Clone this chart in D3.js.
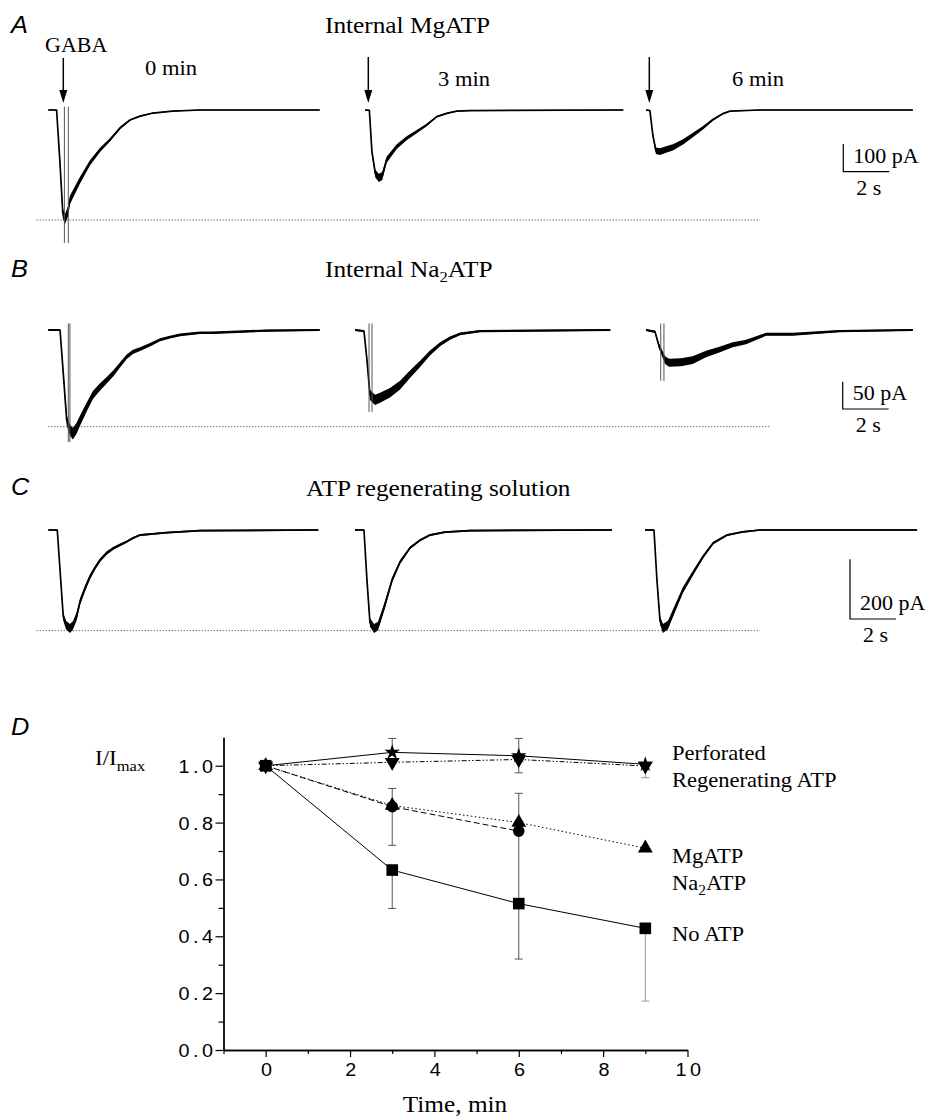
<!DOCTYPE html>
<html>
<head>
<meta charset="utf-8">
<script src="https://cdn.jsdelivr.net/npm/d3@7"></script>
<style>
body { margin: 0; background: #fff; }
svg { display: block; }
text { font-family: "Liberation Serif", "Times New Roman", serif; fill: #000; }
.sans { font-family: "Liberation Sans", Arial, sans-serif; }
</style>
</head>
<body>
<svg id="fig" width="930" height="1117"></svg>
<script>
// ---------- current traces: time (s) from sweep start, current (pA) ----------
// A: internal MgATP
var tA0 = [0, 0.36, 0.5, 0.63, 0.72, 0.85, 0.94, 1.38, 1.81, 2.25, 2.68, 3.12, 3.55, 3.99, 4.55, 5.4, 6.6, 11.8];
var iA0 = [0, 0, -180, -372, -395, -368, -325, -253, -191, -144, -108, -65, -36, -22, -11, -4, 0, 0];
var tA3 = [0, 0.19, 0.3, 0.45, 0.6, 0.75, 0.94, 1.38, 1.81, 2.25, 2.68, 3.12, 3.55, 3.99, 4.57, 11.23];
var iA3 = [0, -1, -150, -230, -245, -238, -180, -132, -102, -78, -54, -24, -12, -4, -2, 0];
var tA6 = [0, 0.17, 0.30, 0.43, 0.61, 0.87, 1.17, 1.61, 2.04, 2.48, 2.91, 3.35, 3.65, 4.96, 11.6];
var iA6 = [0, -2, -92, -147, -150, -143, -135, -115, -90, -64, -35, -13, -4, 0, 0];
// B: internal Na2ATP
var tB0 = [0, 0.51, 0.64, 0.80, 0.94, 1.07, 1.23, 1.38, 1.67, 1.94, 2.25, 2.54, 2.83, 3.12, 3.41, 3.68, 3.99, 4.42, 4.86, 5.29, 5.73, 6.6, 7.16, 9.5, 11.8];
var iB0 = [0, 0, -73, -165, -183, -190, -180, -166, -141, -119, -104, -92, -79, -64, -49, -40, -35, -27, -18, -13, -9, -5, -5, -1, 0];
var tB3 = [0, 0.39, 0.52, 0.65, 0.87, 1.09, 1.52, 1.96, 2.39, 2.83, 3.26, 3.7, 4.13, 4.57, 5.43, 11.1];
var iB3 = [0, -2, -55, -119, -128, -124, -115, -101, -81, -62, -42, -26, -15, -7, -2, 0];
var tB6 = [0, 0.39, 0.57, 0.83, 1.0, 1.52, 2.03, 2.61, 3.19, 3.77, 4.35, 5.22, 6.38, 8.41, 11.6];
var iB6 = [0, -3, -30, -55, -60, -59, -55, -44, -36, -27, -22, -8, -8, -2, 0];
// C: ATP regenerating solution
var tC0 = [0, 0.39, 0.51, 0.65, 0.77, 0.94, 1.07, 1.23, 1.38, 1.60, 1.81, 2.03, 2.25, 2.54, 2.83, 3.12, 3.41, 3.68, 3.99, 5.15, 6.6, 11.74];
var iC0 = [0, 0, -134, -290, -318, -330, -320, -290, -240, -195, -157, -127, -101, -77, -61, -50, -39, -27, -17, -9, -2, 0];
var tC3 = [0, 0.39, 0.52, 0.65, 0.83, 1.0, 1.3, 1.61, 1.96, 2.39, 2.83, 3.26, 3.91, 5.0, 11.17];
var iC3 = [0, 0, -168, -310, -330, -322, -251, -168, -107, -60, -34, -17, -7, -2, 0];
var tC6 = [0, 0.39, 0.52, 0.65, 0.78, 1.0, 1.22, 1.65, 2.09, 2.52, 2.96, 3.57, 4.26, 5.0, 11.83];
var iC6 = [0, 0, -168, -302, -330, -318, -278, -201, -144, -90, -44, -17, -6, 0, 0];
// stimulus artifacts: time (s) of the two spikes, and their depth (pA)
var artA0 = [0.70, 0.87], artA0Depth = -480;
var artB0 = [0.87, 0.94], artB0Depth = -205;
var artB3 = [0.61, 0.74], artB3Depth = -150;
var artB6 = [0.64, 0.78], artB6Depth = -93;
// peak reference levels (dotted lines), pA
var refA = -397, refB = -177, refC = -337;

// ---------- panel D: normalised current ----------
var dTimes = [0, 3, 6, 9];
var perfMean = [1.0, 1.047, 1.035, 1.005];
var regenMean = [1.0, 1.012, 1.022, 0.999];
var mgMean = [1.0, 0.86, 0.80, 0.71];
var naMean = [1.0, 0.856, 0.770];
var noMean = [1.0, 0.633, 0.515, 0.428];
var perfLo = [null, null, null, null], perfHi = [null, 1.096, 1.096, null];
var regenLo = [null, null, 0.975, 0.958], regenHi = [null, null, null, null];
var mgLo = [null, null, null, null], mgHi = [null, null, 0.903, null];
var naLo = [null, 0.72, 0.518], naHi = [null, 0.92, null];
var noLo = [null, 0.498, 0.32, 0.172], noHi = [null, null, null, null];
var yTicksD = [0, 0.2, 0.4, 0.6, 0.8, 1.0];
var yMinorD = [0.1, 0.3, 0.5, 0.7, 0.9];
var xTicksD = [0, 2, 4, 6, 8, 10];
var xMinorD = [-1, 1, 3, 5, 7, 9];

var svg = d3.select("#fig");
var pxPerSec = 23;
var stretch = 1.1;   // the original lettering is slightly wide

// ---------- helpers ----------
function txt(x, y, size, str) {
  var t = svg.append("text")
    .attr("transform", "translate(" + x + "," + y + ") scale(" + stretch + ",1)")
    .attr("font-size", size);
  if (str != null) t.text(str);
  return t;
}
function traceY(base, pxPer100) {
  return d3.scaleLinear().domain([0, -100]).range([base, base + pxPer100]);
}
// noise: [half-width at rest (px), extra half-width per pA of current]
function drawTrace(t, cur, x0, y, noise) {
  var x = d3.scaleLinear().domain([0, 1]).range([x0, x0 + pxPerSec]);
  var pts = t.map(function(d, k) { return [d, cur[k]]; });
  var hw = function(d) { return noise[0] + noise[1] * Math.abs(d[1]); };
  svg.append("path")
    .attr("d", d3.area()
      .x(function(d) { return x(d[0]); })
      .y0(function(d) { return y(d[1]) - hw(d); })
      .y1(function(d) { return y(d[1]) + hw(d); })(pts))
    .attr("fill", "#000");
  svg.append("path")
    .attr("d", d3.line().x(function(d) { return x(d[0]); }).y(function(d) { return y(d[1]); })(pts))
    .attr("fill", "none")
    .attr("stroke", "#000")
    .attr("stroke-width", 1.7)
    .attr("stroke-linejoin", "round");
  return x;
}
function drawArtifacts(times, depth, x, y) {
  times.forEach(function(tt) {
    svg.append("line")
      .attr("x1", x(tt)).attr("x2", x(tt))
      .attr("y1", y(12)).attr("y2", y(depth))
      .attr("stroke", "#555").attr("stroke-width", 1);
  });
}
function dotted(x1, x2, yy) {
  svg.append("line")
    .attr("x1", x1).attr("x2", x2).attr("y1", yy).attr("y2", yy)
    .attr("stroke", "#333").attr("stroke-width", 1)
    .attr("stroke-dasharray", "1,2");
}
function scaleBar(cx, cy, y, pa, label) {
  var h = y(-pa) - y(0);
  svg.append("path")
    .attr("d", "M" + cx + "," + (cy - h) + "V" + cy + "H" + (cx + 2 * pxPerSec))
    .attr("fill", "none").attr("stroke", "#000").attr("stroke-width", 1.2);
  txt(cx + 10, cy - 9, 20, label);
  txt(cx + 13, cy + 23, 20, "2 s");
}
function panelLabel(str, x, y) {
  txt(x, y, 23, str).attr("class", "sans").attr("font-style", "italic");
}
function arrow(x, y1, y2) {
  svg.append("line").attr("x1", x).attr("x2", x).attr("y1", y1).attr("y2", y2 - 10)
    .attr("stroke", "#000").attr("stroke-width", 1.5);
  svg.append("path")
    .attr("d", "M" + (x - 4) + "," + (y2 - 13) + "L" + (x + 4) + "," + (y2 - 13) + "L" + x + "," + y2 + "Z")
    .attr("fill", "#000");
}

// ---------- panel A ----------
panelLabel("A", 11, 33);
txt(325, 33, 23, "Internal MgATP");
var yA = traceY(110, 27.7);
var xA0 = drawTrace(tA0, iA0, 48.3, yA, [0.4, 0.012]);
drawTrace(tA3, iA3, 365, yA, [0.4, 0.015]);
drawTrace(tA6, iA6, 646, yA, [0.4, 0.02]);
drawArtifacts(artA0, artA0Depth, xA0, yA);
dotted(36.7, 760, yA(refA));
arrow(63.3, 58, 103);
arrow(368.3, 57, 103);
arrow(649.3, 57, 103);
txt(45, 52, 20, "GABA");
txt(145, 75, 20.5, "0 min");
txt(438, 86, 20.5, "3 min");
txt(732, 86, 20.5, "6 min");
scaleBar(843.3, 171.7, yA, 100, "100 pA");

// ---------- panel B ----------
panelLabel("B", 11, 277);
var tB = txt(325, 277, 23);
tB.append("tspan").text("Internal Na");
tB.append("tspan").attr("font-size", 15).attr("dy", 5).text("2");
tB.append("tspan").attr("dy", -5).text("ATP");
var yB = traceY(330, 54.6);
var xB0 = drawTrace(tB0, iB0, 48.3, yB, [1.1, 0.024]);
var xB3 = drawTrace(tB3, iB3, 355, yB, [1.1, 0.032]);
var xB6 = drawTrace(tB6, iB6, 646, yB, [1.1, 0.05]);
drawArtifacts(artB0, artB0Depth, xB0, yB);
drawArtifacts(artB3, artB3Depth, xB3, yB);
drawArtifacts(artB6, artB6Depth, xB6, yB);
dotted(48.3, 771, yB(refB));
scaleBar(842.7, 409, yB, 50, "50 pA");

// ---------- panel C ----------
panelLabel("C", 11, 495);
txt(306, 496, 23, "ATP regenerating solution");
var yC = traceY(530, 29.85);
drawTrace(tC0, iC0, 48.3, yC, [0.8, 0.011]);
drawTrace(tC3, iC3, 355, yC, [0.8, 0.011]);
drawTrace(tC6, iC6, 645, yC, [0.8, 0.011]);
dotted(36.7, 760, yC(refC));
scaleBar(850, 619, yC, 200, "200 pA");

// ---------- panel D ----------
panelLabel("D", 11, 735);
var x = d3.scaleLinear().domain([-1, 10]).range([223.5, 687.5]);
var y = d3.scaleLinear().domain([0, 1.1]).range([1050, 737.3]);

svg.append("g").attr("transform", "translate(223.5,0)")
  .call(d3.axisLeft(y).tickValues(yMinorD).tickSize(5).tickSizeOuter(0).tickFormat(""));
var gy = svg.append("g").attr("transform", "translate(223.5,0)")
  .call(d3.axisLeft(y).tickValues(yTicksD).tickSize(8).tickSizeOuter(0).tickFormat(d3.format(".1f")));
svg.append("g").attr("transform", "translate(0,1050)")
  .call(d3.axisBottom(x).tickValues(xMinorD).tickSize(4).tickSizeOuter(0).tickFormat(""));
var gx = svg.append("g").attr("transform", "translate(0,1050)")
  .call(d3.axisBottom(x).tickValues(xTicksD).tickSize(7).tickSizeOuter(0).tickFormat(d3.format("d")));
svg.selectAll(".domain").attr("stroke", "#000").attr("stroke-width", 1.3);
svg.selectAll(".tick line").attr("stroke", "#000").attr("stroke-width", 1.2);
svg.selectAll(".tick text")
  .style("font-family", "'Liberation Sans', Arial, sans-serif")
  .style("font-size", "18px").style("letter-spacing", "3.2px").style("fill", "#000");
gy.selectAll(".tick text").attr("x", null).attr("dy", null)
  .attr("transform", "translate(-7,6.5) scale(" + stretch + ",1)");
gx.selectAll(".tick text").attr("y", null).attr("dy", null)
  .attr("transform", "translate(2,25.5) scale(" + stretch + ",1)");

var series = [
  { mean: perfMean, lo: perfLo, hi: perfHi, sym: d3.symbolStar, size: 75, rot: 0, dash: null },
  { mean: regenMean, lo: regenLo, hi: regenHi, sym: d3.symbolTriangle, size: 95, rot: 180, dash: "5,2,1.5,2,1.5,2" },
  { mean: mgMean, lo: mgLo, hi: mgHi, sym: d3.symbolTriangle, size: 95, rot: 0, dash: "1.5,2.5" },
  { mean: naMean, lo: naLo, hi: naHi, sym: d3.symbolCircle, size: 105, rot: 0, dash: "6,3" },
  { mean: noMean, lo: noLo, hi: noHi, sym: d3.symbolSquare, size: 135, rot: 0, dash: null }
];

// error bars
series.forEach(function(s) {
  s.mean.forEach(function(m, k) {
    [s.lo[k], s.hi[k]].forEach(function(e) {
      if (e == null) return;
      var cx = x(dTimes[k]);
      var col = k === 3 ? "#999" : "#555";
      svg.append("line").attr("x1", cx).attr("x2", cx).attr("y1", y(m)).attr("y2", y(e))
        .attr("stroke", col).attr("stroke-width", 1);
      svg.append("line").attr("x1", cx - 4).attr("x2", cx + 4).attr("y1", y(e)).attr("y2", y(e))
        .attr("stroke", col).attr("stroke-width", 1);
    });
  });
});

// lines
var line = d3.line().x(function(d) { return x(d[0]); }).y(function(d) { return y(d[1]); });
series.forEach(function(s) {
  svg.append("path")
    .attr("d", line(s.mean.map(function(m, k) { return [dTimes[k], m]; })))
    .attr("fill", "none").attr("stroke", "#000").attr("stroke-width", 1)
    .attr("stroke-dasharray", s.dash);
});

// markers
series.forEach(function(s) {
  svg.selectAll(null).data(s.mean).enter().append("path")
    .attr("d", d3.symbol().type(s.sym).size(s.size))
    .attr("transform", function(m, k) {
      return "translate(" + x(dTimes[k]) + "," + y(m) + ") rotate(" + s.rot + ")";
    })
    .attr("fill", "#000");
});

// axis titles
var yl = txt(95, 765, 21);
yl.append("tspan").text("I/I");
yl.append("tspan").attr("font-size", 15).attr("dy", 6).text("max");
txt(455, 1112, 23, "Time, min").attr("text-anchor", "middle");

// series labels
txt(672, 760, 20.5, "Perforated");
txt(672, 787, 20.5, "Regenerating ATP");
txt(672, 863, 20.5, "MgATP");
var na = txt(672, 890, 20.5);
na.append("tspan").text("Na");
na.append("tspan").attr("font-size", 14).attr("dy", 5).text("2");
na.append("tspan").attr("dy", -5).text("ATP");
txt(672, 941, 20.5, "No ATP");
</script>
</body>
</html>
